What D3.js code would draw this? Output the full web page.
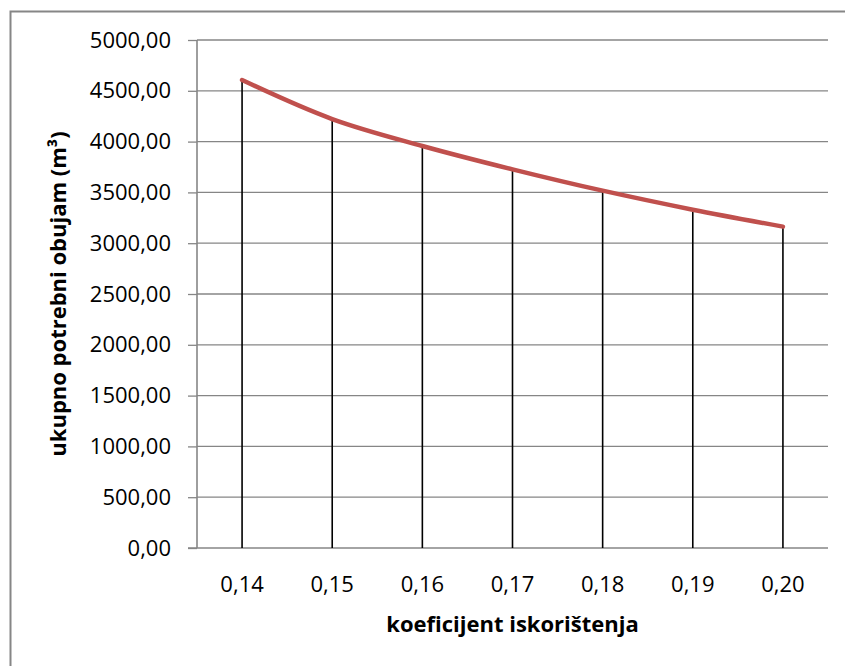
<!DOCTYPE html>
<html>
<head>
<meta charset="utf-8">
<script src="https://cdn.jsdelivr.net/npm/d3@7"></script>
<style>
  html, body { margin: 0; padding: 0; background: #fff; }
  svg { display: block; }
</style>
</head>
<body>
<svg id="chart" width="845" height="666"></svg>
<script>
const categories = ["0,14", "0,15", "0,16", "0,17", "0,18", "0,19", "0,20"];
const volumes = [4606, 4222, 3957, 3727, 3517, 3330, 3163];
const yTicks = [0, 500, 1000, 1500, 2000, 2500, 3000, 3500, 4000, 4500, 5000];
const xTitle = "koeficijent iskorištenja";
const yTitle = "ukupno potrebni obujam (m³)";

const svg = d3.select("#chart");
const plot = { left: 197, right: 828, top: 40, bottom: 548 };
const font = "'Open Sans', 'DejaVu Sans', sans-serif";
const grey = "#868686";

// outer chart border (extends beyond the picture on right/bottom)
svg.append("rect")
  .attr("x", 10.5).attr("y", 11.5)
  .attr("width", 900).attr("height", 700)
  .attr("fill", "none").attr("stroke", grey).attr("stroke-width", 2);

const x = d3.scaleBand().domain(categories).range([plot.left, plot.right]).padding(0);
const y = d3.scaleLinear().domain([0, 5000]).range([plot.bottom, plot.top]);
const cx = d => x(d) + x.bandwidth() / 2;

// gridlines
svg.append("g").selectAll("line").data(yTicks.filter(t => t > 0)).join("line")
  .attr("x1", plot.left).attr("x2", plot.right)
  .attr("y1", d => y(d)).attr("y2", d => y(d))
  .attr("stroke", grey).attr("stroke-width", 1.3);

// y axis
const yAxis = d3.axisLeft(y).tickValues(yTicks).tickSize(9).tickPadding(17)
  .tickFormat(d => d3.format(".2f")(d).replace(".", ","));
const gy = svg.append("g").attr("transform", `translate(${plot.left},0)`).call(yAxis);
gy.select(".domain").attr("stroke", grey).attr("stroke-width", 1.6).attr("d", `M0,${plot.top}V${plot.bottom}`);
gy.selectAll(".tick line").attr("stroke", grey).attr("stroke-width", 1.3);
gy.selectAll(".tick text").attr("font-family", font).attr("font-size", 22).attr("fill", "#000");

// x axis
const xAxis = d3.axisBottom(x).tickSize(0).tickPadding(28);
const gx = svg.append("g").attr("transform", `translate(0,${plot.bottom})`).call(xAxis);
gx.select(".domain").attr("stroke", grey).attr("stroke-width", 1.6).attr("d", `M${plot.left - 9},0H${plot.right}`);
gx.selectAll(".tick text").attr("font-family", font).attr("font-size", 22).attr("fill", "#000");

// drop lines
svg.append("g").selectAll("line").data(categories).join("line")
  .attr("x1", d => cx(d)).attr("x2", d => cx(d))
  .attr("y1", (d, i) => y(volumes[i])).attr("y2", plot.bottom)
  .attr("stroke", "#000").attr("stroke-width", 1.6);

// series line
const line = d3.line()
  .x((d, i) => cx(categories[i]))
  .y(d => y(d))
  .curve(d3.curveCatmullRom.alpha(0.5));
svg.append("path").datum(volumes)
  .attr("d", line)
  .attr("fill", "none").attr("stroke", "#C0504D").attr("stroke-width", 4.5)
  .attr("stroke-linecap", "round").attr("stroke-linejoin", "round");

// titles
svg.append("text")
  .attr("x", (plot.left + plot.right) / 2).attr("y", 632)
  .attr("text-anchor", "middle")
  .attr("font-family", font).attr("font-size", 22).attr("font-weight", "bold")
  .text(xTitle);

svg.append("text")
  .attr("transform", `translate(66,${(plot.top + plot.bottom) / 2}) rotate(-90)`)
  .attr("text-anchor", "middle")
  .attr("font-family", font).attr("font-size", 22).attr("font-weight", "bold")
  .text(yTitle);
</script>
</body>
</html>
